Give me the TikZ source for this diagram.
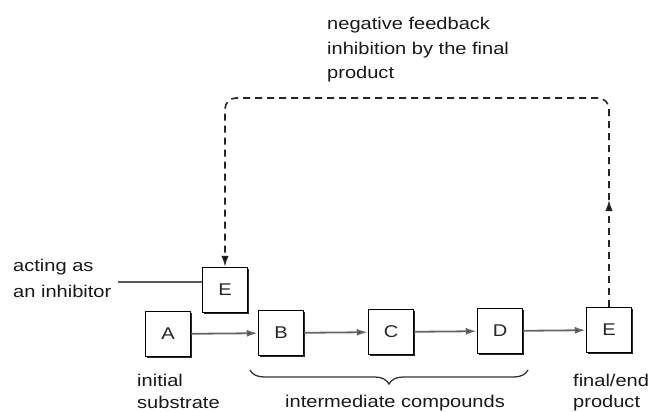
\documentclass[tikz,border=0pt]{standalone}
\usepackage{fontspec}
\setmainfont{Liberation Sans}[FakeStretch=1.18]
\usetikzlibrary{arrows.meta,decorations.pathreplacing,shadows}
\begin{document}
\begin{tikzpicture}[x=1pt,y=-1pt,
  box/.style={draw=black,line width=1.5pt,fill=white,minimum width=45pt,minimum height=45pt,inner sep=0pt,
    font=\fontsize{17}{20}\selectfont,text=black!85,
    drop shadow={shadow xshift=1.8pt,shadow yshift=-1.8pt,fill=black!85,opacity=1}},
  lbl/.style={anchor=base west,inner sep=0pt,font=\fontsize{17}{20}\selectfont,text=black!90},
  flow/.style={line width=1.8pt,draw=black!60,-{Latex[length=11pt,width=7pt,fill=black]}},
  fb/.style={line width=1.6pt,dash pattern=on 7pt off 5pt,draw=black!85},
  fbtip/.style={-{Latex[length=11pt,width=7.5pt,fill=black]}},
]
\fill[white] (0,0) rectangle (651,412);
\useasboundingbox (0,0) rectangle (651,412);

% boxes
\node[box] (Ei) at (225,290) {E};
\node[box] (A)  at (168,334) {A};
\node[box] (B)  at (281,333) {B};
\node[box] (C)  at (391,332) {C};
\node[box] (D)  at (500,331) {D};
\node[box] (Ef) at (609,330) {E};

% main pathway
\draw[flow] (A) -- (B);
\draw[flow] (B) -- (C);
\draw[flow] (C) -- (D);
\draw[flow] (D) -- (Ef);

% feedback loop
\coordinate (m)  at (609,200);
\coordinate (tr) at (609,98);
\coordinate (tl) at (225,98);
\draw[fb,fbtip] (Ef.north) -- (m);
\draw[fb,fbtip,rounded corners=11pt] (m) -- (tr) -- (tl) -- (Ei.north);

% inhibitor line
\coordinate (il) at (118,282);
\draw[line width=1.3pt,draw=black!65] (il) -- (il -| Ei.west);

% brace
\coordinate (br1) at (250,370);
\coordinate (br2) at (528,370);
\draw[line width=1.3pt,draw=black!80,decorate,decoration={brace,mirror,amplitude=14pt}] (br1) -- (br2);

% labels
\node[lbl] (nf1) at (327,30) {negative feedback};
\node[lbl] (nf2) at (327,55) {inhibition by the final};
\node[lbl] (nf3) at (327,79) {product};
\node[lbl] (ac1) at (13,271) {acting as};
\node[lbl] (ac2) at (13,297) {an inhibitor};
\node[lbl] (in1) at (137,386) {initial};
\node[lbl] (in2) at (137,408) {substrate};
\node[lbl] (im)  at (285,407) {intermediate compounds};
\node[lbl] (fe1) at (573,386) {final/end};
\node[lbl] (fe2) at (573,407) {product};
\end{tikzpicture}
\end{document}
